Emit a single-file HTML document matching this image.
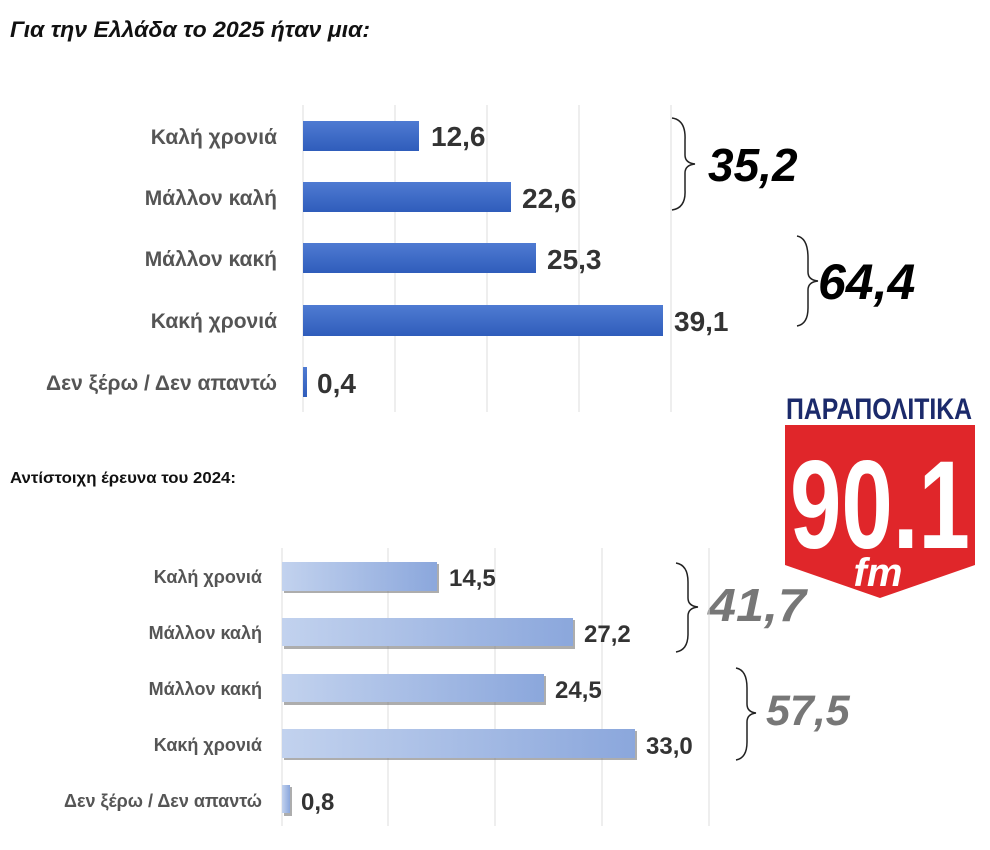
<!DOCTYPE html>
<html><head><meta charset="utf-8"><style>
body{margin:0;background:#fff;width:990px;height:845px;overflow:hidden;font-family:"Liberation Sans","DejaVu Sans",sans-serif}
</style></head><body>
<svg width="990" height="845" xmlns="http://www.w3.org/2000/svg" font-family="Liberation Sans, DejaVu Sans, sans-serif">
<defs>
<linearGradient id="b1" x1="0" y1="0" x2="0" y2="1"><stop offset="0" stop-color="#4f7bd2"/><stop offset="1" stop-color="#2f5dbb"/></linearGradient>
<linearGradient id="b2" x1="0" y1="0" x2="1" y2="0"><stop offset="0" stop-color="#c2d2ee"/><stop offset="1" stop-color="#8ba7dc"/></linearGradient>
</defs>
<text x="10" y="37" font-size="22" font-weight="bold" font-style="italic" fill="#111" textLength="360" lengthAdjust="spacingAndGlyphs">Για την Ελλάδα το 2025 ήταν μια:</text>
<g stroke="#dcdcdc" stroke-width="1">
<line x1="303" y1="105" x2="303" y2="412"/><line x1="395" y1="105" x2="395" y2="412"/><line x1="487" y1="105" x2="487" y2="412"/><line x1="579" y1="105" x2="579" y2="412"/><line x1="671" y1="105" x2="671" y2="412"/>
</g>
<g fill="url(#b1)">
<rect x="303" y="121" width="116" height="30"/>
<rect x="303" y="182" width="208" height="30"/>
<rect x="303" y="243" width="233" height="30"/>
<rect x="303" y="305" width="360" height="31"/>
<rect x="303" y="367" width="4" height="30"/>
</g>
<g font-size="21" font-weight="bold" fill="#555" text-anchor="end">
<text x="277" y="144">Καλή χρονιά</text>
<text x="277" y="205">Μάλλον καλή</text>
<text x="277" y="266">Μάλλον κακή</text>
<text x="277" y="328">Κακή χρονιά</text>
<text x="277" y="390">Δεν ξέρω / Δεν απαντώ</text>
</g>
<g font-size="28" font-weight="bold" fill="#333">
<text x="431" y="146">12,6</text>
<text x="522" y="208">22,6</text>
<text x="547" y="269">25,3</text>
<text x="674" y="331">39,1</text>
<text x="317" y="393">0,4</text>
</g>
<g fill="none" stroke="#222" stroke-width="1.5">
<path d="M672 118 Q686 120 685 140 L685 155 Q685 163 695 164 Q685 165 685 173 L685 190 Q686 208 672 210"/>
<path d="M797 236 Q808 238 808 258 L808 272 Q808 280 818 281 Q808 282 808 290 L808 308 Q808 324 797 326"/>
<path d="M676 563 Q688 565 688 582 L688 598 Q688 606 698 607 Q688 608 688 616 L688 634 Q688 650 676 652"/>
<path d="M736 668 Q747 670 747 688 L747 704 Q747 712 756 713 Q747 714 747 722 L747 742 Q747 758 736 760"/>
</g>
<text x="708" y="181" font-size="46" font-weight="bold" font-style="italic" fill="#000">35,2</text>
<text x="818" y="299" font-size="50" font-weight="bold" font-style="italic" fill="#000">64,4</text>
<text x="708" y="621" font-size="46" font-weight="bold" font-style="italic" fill="#777" textLength="98" lengthAdjust="spacingAndGlyphs">41,7</text>
<text x="766" y="725" font-size="43" font-weight="bold" font-style="italic" fill="#777">57,5</text>
<text x="10" y="483" font-size="16" font-weight="bold" fill="#111" textLength="226" lengthAdjust="spacingAndGlyphs">Αντίστοιχη έρευνα του 2024:</text>
<g stroke="#dcdcdc" stroke-width="1">
<line x1="282" y1="548" x2="282" y2="826"/><line x1="388" y1="548" x2="388" y2="826"/><line x1="495" y1="548" x2="495" y2="826"/><line x1="602" y1="548" x2="602" y2="826"/><line x1="709" y1="548" x2="709" y2="826"/>
</g>
<g fill="#777" opacity="0.6">
<rect x="284" y="564" width="155" height="29"/><rect x="284" y="620" width="291" height="29"/><rect x="284" y="676" width="262" height="29"/><rect x="284" y="731" width="353" height="29"/><rect x="284" y="787" width="8" height="29"/>
</g>
<g fill="url(#b2)">
<rect x="282" y="562" width="155" height="29"/>
<rect x="282" y="618" width="291" height="28"/>
<rect x="282" y="674" width="262" height="28"/>
<rect x="282" y="729" width="353" height="29"/>
<rect x="282" y="785" width="8" height="28"/>
</g>
<g font-size="18" font-weight="bold" fill="#555" text-anchor="end">
<text x="262" y="583">Καλή χρονιά</text>
<text x="262" y="639">Μάλλον καλή</text>
<text x="262" y="695">Μάλλον κακή</text>
<text x="262" y="751">Κακή χρονιά</text>
<text x="262" y="807">Δεν ξέρω / Δεν απαντώ</text>
</g>
<g font-size="24" font-weight="bold" fill="#333">
<text x="449" y="586">14,5</text>
<text x="584" y="642">27,2</text>
<text x="555" y="698">24,5</text>
<text x="646" y="754">33,0</text>
<text x="301" y="810">0,8</text>
</g>
<text x="879" y="419" font-size="30" font-weight="bold" fill="#1b2a6b" text-anchor="middle" textLength="186" lengthAdjust="spacingAndGlyphs">ΠΑΡΑΠΟΛΙΤΙΚΑ</text>
<path d="M785 425 L975 425 L975 565 L880 598 L785 565 Z" fill="#e0262a"/>
<text x="880" y="548" font-size="125" font-weight="bold" fill="#fff" text-anchor="middle" textLength="180" lengthAdjust="spacingAndGlyphs">90.1</text>
<text x="878" y="586" font-size="40" font-weight="bold" font-style="italic" fill="#fff" text-anchor="middle">fm</text>
</svg>
</body></html>
